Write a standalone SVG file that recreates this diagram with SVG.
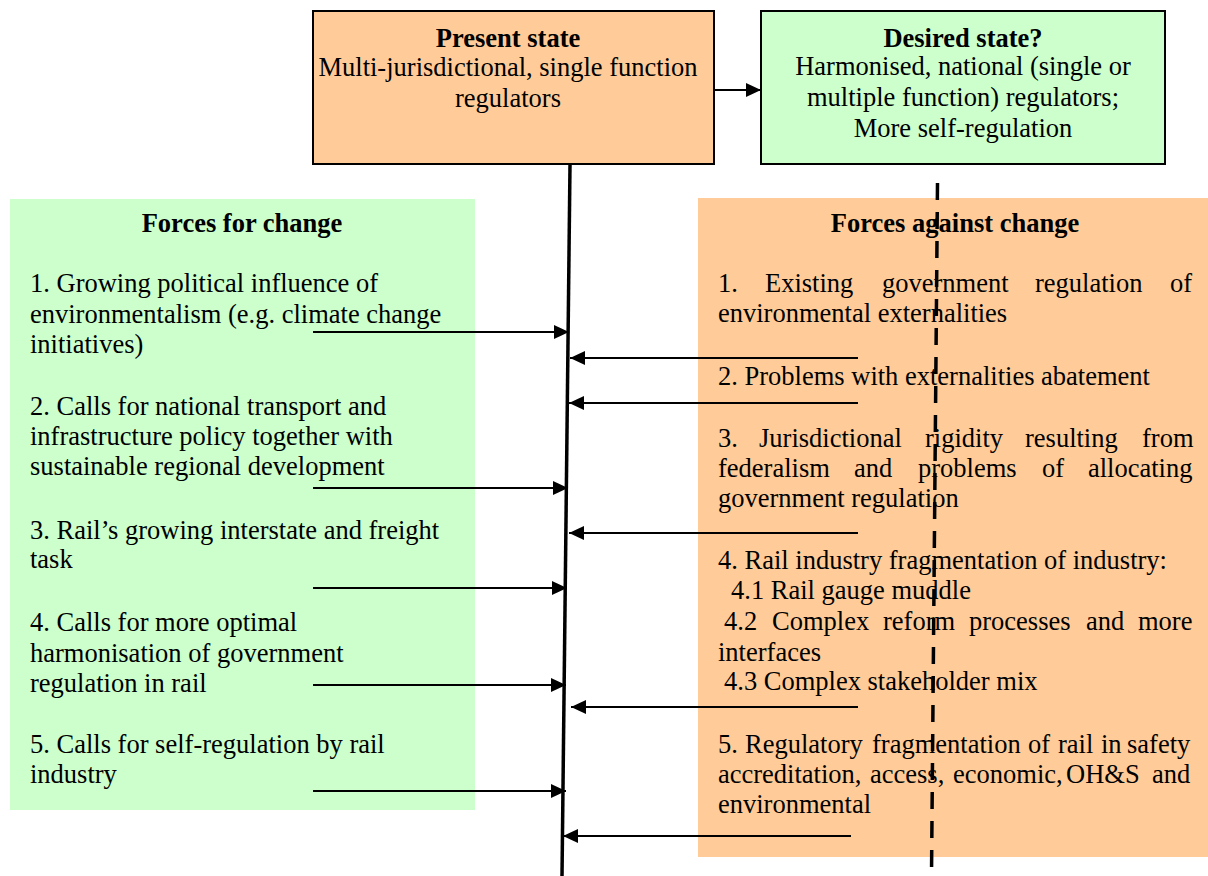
<svg xmlns="http://www.w3.org/2000/svg" width="1208" height="876" viewBox="0 0 1208 876">
<defs>
<style>
text{font-family:"Liberation Serif","Times New Roman",serif;font-size:26.5px;fill:#000}
.b{font-weight:bold}
.c{text-anchor:middle}
.box{stroke:#000;stroke-width:2}
.arr{stroke:#000;stroke-width:2;fill:none;marker-end:url(#ah)}
</style>
<marker id="ah" markerUnits="userSpaceOnUse" markerWidth="16" markerHeight="16" viewBox="0 0 16 16" refX="15" refY="8" orient="auto">
<path d="M0,1 L15,8 L0,15 Z" fill="#000"/>
</marker>
</defs>
<rect width="1208" height="876" fill="#fff"/>

<g id="forces-for">
<rect x="10" y="199" width="465" height="611" fill="#CCFFCC"/>
<text class="b c" x="242" y="232">Forces for change</text>
<text x="30" y="292">1. Growing political influence of</text>
<text x="30" y="323">environmentalism (e.g. climate change</text>
<text x="30" y="353">initiatives)</text>
<text x="30" y="415">2. Calls for national transport and</text>
<text x="30" y="445">infrastructure policy together with</text>
<text x="30" y="475">sustainable regional development</text>
<text x="30" y="539">3. Rail’s growing interstate and freight</text>
<text x="30" y="568">task</text>
<text x="30" y="631">4. Calls for more optimal</text>
<text x="30" y="662">harmonisation of government</text>
<text x="30" y="692">regulation in rail</text>
<text x="30" y="753">5. Calls for self-regulation by rail</text>
<text x="30" y="783">industry</text>
</g>

<g id="forces-against">
<rect x="698" y="198" width="510" height="659" fill="#FFCC99"/>
<text class="b c" x="955" y="232">Forces against change</text>
<text y="292"><tspan x="718">1.</tspan><tspan x="765">Existing</tspan><tspan x="882">government</tspan><tspan x="1035">regulation</tspan><tspan x="1170">of</tspan></text>
<text x="718" y="322">environmental externalities</text>
<text x="718" y="385">2. Problems with externalities abatement</text>
<text y="447"><tspan x="718">3.</tspan><tspan x="759">Jurisdictional</tspan><tspan x="925">rigidity</tspan><tspan x="1025">resulting</tspan><tspan x="1142">from</tspan></text>
<text y="477"><tspan x="718">federalism</tspan><tspan x="854">and</tspan><tspan x="918">problems</tspan><tspan x="1042">of</tspan><tspan x="1088">allocating</tspan></text>
<text x="718" y="507">government regulation</text>
<text x="718" y="569">4. Rail industry fragmentation of industry:</text>
<text x="731" y="599">4.1 Rail gauge muddle</text>
<text y="630"><tspan x="724">4.2</tspan><tspan x="772">Complex</tspan><tspan x="883">reform</tspan><tspan x="969">processes</tspan><tspan x="1086">and</tspan><tspan x="1138">more</tspan></text>
<text x="718" y="661">interfaces</text>
<text x="724" y="690">4.3 Complex stakeholder mix</text>
<text y="753"><tspan x="718">5.</tspan><tspan x="745">Regulatory</tspan><tspan x="872">fragmentation</tspan><tspan x="1028">of</tspan><tspan x="1058">rail</tspan><tspan x="1101">in</tspan><tspan x="1127">safety</tspan></text>
<text y="783"><tspan x="718">accreditation,</tspan><tspan x="870">access,</tspan><tspan x="953">economic,</tspan><tspan x="1066">OH&amp;S</tspan><tspan x="1152">and</tspan></text>
<text x="718" y="813">environmental</text>
</g>

<g id="present-state">
<rect class="box" x="313" y="11" width="401" height="153" fill="#FFCC99"/>
<text class="b c" x="508" y="47">Present state</text>
<text class="c" x="508" y="76">Multi-jurisdictional, single function</text>
<text class="c" x="508" y="107">regulators</text>
</g>

<g id="desired-state">
<rect class="box" x="761" y="11" width="404" height="153" fill="#CCFFCC"/>
<text class="b c" x="963" y="47">Desired state?</text>
<text class="c" x="963" y="75">Harmonised, national (single or</text>
<text class="c" x="963" y="106">multiple function) regulators;</text>
<text class="c" x="963" y="137">More self-regulation</text>
</g>

<g id="connectors">
<line x1="570" y1="165" x2="562" y2="876" stroke="#000" stroke-width="3.5"/>
<line x1="937.5" y1="183" x2="931.5" y2="876" stroke="#000" stroke-width="3.5" stroke-dasharray="17 12"/>
<line class="arr" x1="714" y1="90" x2="761" y2="90"/>
<line class="arr" x1="313" y1="332" x2="569" y2="332"/>
<line class="arr" x1="313" y1="488" x2="568" y2="488"/>
<line class="arr" x1="313" y1="588" x2="567" y2="588"/>
<line class="arr" x1="313" y1="685" x2="566" y2="685"/>
<line class="arr" x1="313" y1="791" x2="566" y2="791"/>
<line class="arr" x1="858" y1="358" x2="570" y2="358"/>
<line class="arr" x1="858" y1="403" x2="569" y2="403"/>
<line class="arr" x1="858" y1="533" x2="569" y2="533"/>
<line class="arr" x1="858" y1="707" x2="571" y2="707"/>
<line class="arr" x1="851" y1="836" x2="563" y2="836"/>
</g>
</svg>
